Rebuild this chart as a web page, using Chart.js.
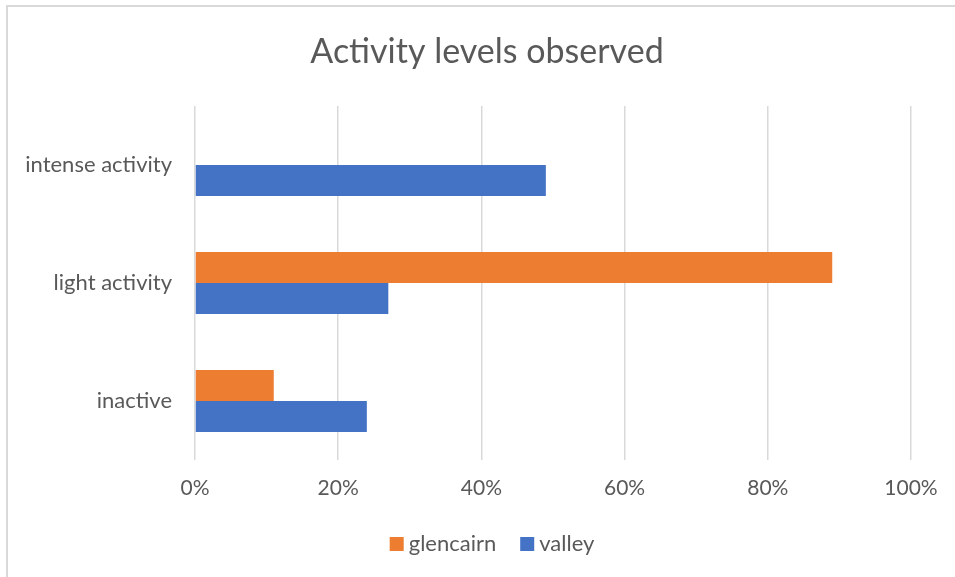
<!DOCTYPE html>
<html>
<head>
<meta charset="utf-8">
<script src="https://cdn.jsdelivr.net/npm/chart.js@4/dist/chart.umd.min.js"></script>
<style>
  html, body { margin: 0; padding: 0; background: #fff; }
  #wrap { width: 955px; height: 577px; position: relative; }
</style>
</head>
<body>
<div id="wrap"><canvas id="chart" width="955" height="577"></canvas></div>
<script>
const TITLE = 'Activity levels observed';
const CATEGORIES = ['intense activity', 'light activity', 'inactive'];
const GLENCAIRN = [0, 0.89, 0.11];
const VALLEY = [0.49, 0.27, 0.24];
const X_TICKS = [0, 0.2, 0.4, 0.6, 0.8, 1];

const TEXT_COLOR = '#595959';
const GRID_COLOR = '#d9d9d9';
const FONT = 'Lato, "Open Sans", sans-serif';

// frame, title and legend: the frame runs past the right and bottom edges,
// so the title and legend are centred on the full frame rather than the canvas
const decor = {
  id: 'decor',
  beforeDraw(chart) {
    const ctx = chart.ctx;
    ctx.save();
    ctx.strokeStyle = GRID_COLOR;
    ctx.lineWidth = 2;
    ctx.strokeRect(7, 6, chart.width + 20, chart.height + 20);
    ctx.restore();
  },
  afterDraw(chart) {
    const ctx = chart.ctx;
    ctx.save();
    ctx.fillStyle = TEXT_COLOR;
    ctx.textAlign = 'center';
    ctx.textBaseline = 'alphabetic';
    ctx.font = `34px ${FONT}`;
    ctx.fillText(TITLE, 487, 63);

    // legend row
    ctx.font = `22px ${FONT}`;
    const box = 14, gap = 5, between = 24;
    const items = chart.data.datasets.map(ds => ({
      text: ds.label,
      color: ds.backgroundColor,
      w: box + gap + ctx.measureText(ds.label).width,
    }));
    const total = items.reduce((s, it) => s + it.w, 0) + between * (items.length - 1);
    let x = 492 - total / 2;
    ctx.textAlign = 'left';
    for (const it of items) {
      ctx.fillStyle = it.color;
      ctx.fillRect(x, 537, box, box);
      ctx.fillStyle = TEXT_COLOR;
      ctx.fillText(it.text, x + box + gap, 551);
      x += it.w + between;
    }
    ctx.restore();
  },
};

new Chart(document.getElementById('chart'), {
  type: 'bar',
  data: {
    labels: CATEGORIES,
    datasets: [
      { label: 'glencairn', data: GLENCAIRN, backgroundColor: '#ed7d31' },
      { label: 'valley', data: VALLEY, backgroundColor: '#4472c4' },
    ],
  },
  options: {
    indexAxis: 'y',
    responsive: false,
    animation: false,
    categoryPercentage: 0.525,
    barPercentage: 1,
    layout: { padding: { left: 7, right: 44, top: 106, bottom: 57 } },
    scales: {
      x: {
        min: 0,
        max: 1,
        afterBuildTicks: scale => { scale.ticks = X_TICKS.map(v => ({ value: v })); },
        afterFit: scale => { scale.height = 60; },
        grid: { color: GRID_COLOR, lineWidth: 1.5, drawTicks: false },
        border: { display: false },
        ticks: {
          padding: 16,
          color: TEXT_COLOR,
          font: { family: FONT, size: 21 },
          callback: v => Math.round(v * 100) + '%',
        },
      },
      y: {
        afterFit: scale => { scale.width = 188; },
        grid: { display: false, drawTicks: false },
        border: { display: false },
        ticks: {
          padding: 23,
          color: TEXT_COLOR,
          font: { family: FONT, size: 22 },
        },
      },
    },
    plugins: {
      title: { display: false },
      legend: { display: false },
      tooltip: { enabled: false },
    },
  },
  plugins: [decor],
});
</script>
</body>
</html>
